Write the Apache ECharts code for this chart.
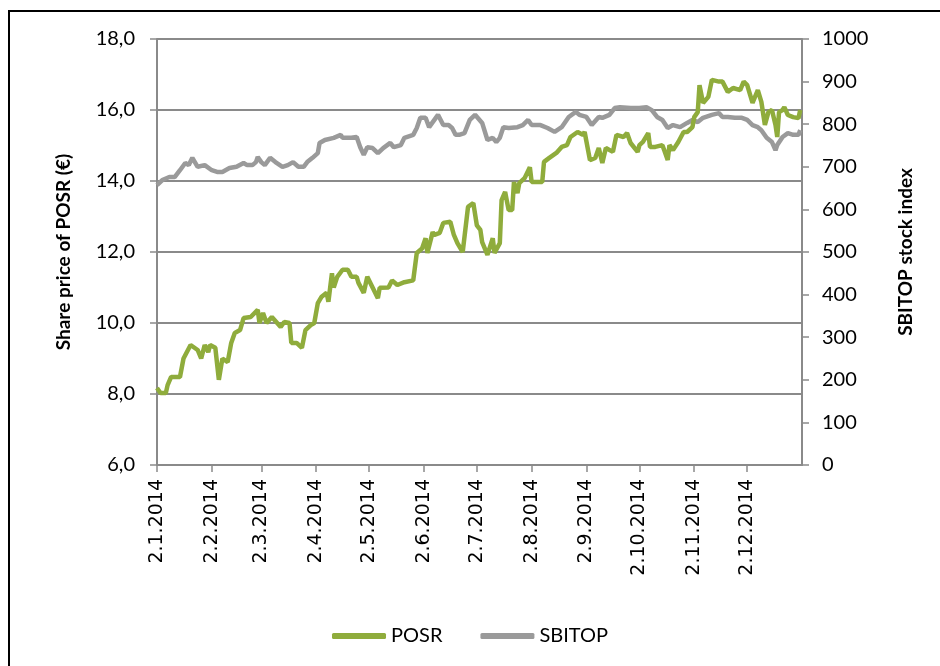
<!DOCTYPE html>
<html>
<head>
<meta charset="utf-8">
<script src="https://cdn.jsdelivr.net/npm/echarts@6/dist/echarts.min.js"></script>
<style>
  html, body { margin: 0; padding: 0; background: #fff; }
  #chart { width: 940px; height: 666px; }
</style>
</head>
<body>
<div id="chart"></div>
<script>
// x values are days counted from 2 January 2014
const monthDays = [0, 31, 59, 90, 120, 151, 181, 212, 243, 273, 304, 334];
const monthLabels = ['2.1.2014', '2.2.2014', '2.3.2014', '2.4.2014', '2.5.2014', '2.6.2014',
  '2.7.2014', '2.8.2014', '2.9.2014', '2.10.2014', '2.11.2014', '2.12.2014'];

const posrDays = [
  0, 2, 5, 6, 8, 13, 15, 19, 23, 25,
  27, 29, 30, 33, 35, 37, 40, 42, 44, 47,
  49, 53, 57, 58, 60, 62, 65, 70, 72, 75,
  76, 79, 82, 84, 87, 89, 91, 93, 96, 97,
  99, 100, 102, 105, 108, 110, 113, 114, 117, 119,
  122, 125, 126, 131, 133, 136, 140, 145, 147, 150,
  152, 153, 156, 157, 160, 162, 166, 168, 170, 173,
  176, 179, 181, 183, 184, 187, 190, 191, 194, 195,
  197, 199, 201, 202, 204, 205, 208, 211, 212, 215,
  218, 219, 222, 226, 229, 232, 234, 238, 241, 242,
  245, 248, 250, 252, 254, 258, 260, 264, 266, 268,
  272, 273, 275, 278, 279, 282, 286, 287, 289, 290,
  292, 295, 298, 300, 303, 304, 306, 307, 309, 312,
  314, 318, 320, 323, 326, 330, 332, 334, 337, 338,
  340, 342, 344, 346, 348, 350, 351, 352, 354, 355,
  357, 360, 363, 364
];
const posrValues = [
  8.17, 8.03, 8.03, 8.25, 8.48, 8.48, 9.0, 9.38, 9.24, 9.0,
  9.38, 9.18, 9.38, 9.3, 8.4, 9.0, 8.9, 9.44, 9.72, 9.8,
  10.14, 10.17, 10.37, 10.0, 10.28, 10.0, 10.17, 9.89, 10.03, 10.0,
  9.44, 9.44, 9.3, 9.8, 9.94, 10.0, 10.56, 10.73, 10.85, 10.6,
  11.4, 11.0, 11.3, 11.5, 11.5, 11.3, 11.3, 11.13, 10.85, 11.3,
  11.0, 10.7, 10.99, 11.0, 11.2, 11.07, 11.15, 11.2, 11.97, 12.1,
  12.39, 11.97, 12.56, 12.48, 12.54, 12.82, 12.85, 12.48, 12.25, 12.0,
  13.27, 13.38, 12.75, 12.62, 12.28, 11.92, 12.39, 11.97, 12.25, 13.46,
  13.69, 13.18, 13.18, 13.97, 13.66, 13.94, 14.08, 14.39, 13.97, 13.97,
  13.97, 14.54, 14.65, 14.79, 14.96, 15.01, 15.24, 15.38, 15.3, 15.38,
  14.59, 14.65, 14.93, 14.51, 14.93, 14.82, 15.3, 15.24, 15.35, 15.07,
  14.82, 15.01, 15.1, 15.35, 14.96, 14.96, 15.01, 14.87, 14.59, 15.01,
  14.87, 15.1, 15.38, 15.38, 15.52, 15.8, 15.94, 16.7, 16.2, 16.37,
  16.85, 16.8, 16.8, 16.51, 16.62, 16.56, 16.8, 16.7, 16.2, 16.2,
  16.56, 16.23, 15.58, 15.94, 16.0, 15.58, 15.24, 15.94, 16.0, 16.08,
  15.86, 15.8, 15.77, 16.0
];

const sbitopDays = [
  0, 3, 7, 10, 13, 16, 18, 20, 23, 24,
  27, 31, 34, 37, 38, 41, 45, 49, 51, 54,
  56, 57, 59, 61, 64, 67, 71, 74, 77, 80,
  83, 85, 88, 91, 92, 95, 100, 104, 105, 110,
  113, 115, 117, 119, 122, 125, 128, 132, 134, 138,
  140, 145, 147, 149, 152, 154, 159, 162, 165, 167,
  169, 171, 174, 177, 180, 184, 187, 190, 192, 194,
  196, 199, 204, 207, 210, 212, 217, 221, 222, 225,
  229, 233, 237, 239, 243, 246, 250, 252, 256, 259,
  262, 268, 273, 277, 280, 283, 286, 289, 292, 296,
  300, 303, 306, 309, 314, 318, 320, 323, 327, 331,
  334, 337, 340, 342, 345, 348, 350, 351, 354, 357,
  360, 363, 364
];
const sbitopValues = [
  657, 669, 676, 676, 692, 709, 704, 721, 700, 697,
  704, 692, 688, 688, 685, 697, 700, 709, 704, 704,
  711, 723, 711, 704, 721, 711, 700, 704, 711, 700,
  700, 711, 721, 732, 756, 763, 768, 775, 768, 768,
  770, 746, 728, 746, 744, 732, 744, 756, 746, 751,
  768, 775, 791, 815, 815, 793, 822, 798, 798, 791,
  775, 775, 779, 810, 822, 803, 763, 768, 758, 768,
  793, 791, 793, 798, 810, 798, 798, 791, 793, 782,
  793, 817, 829, 822, 817, 798, 817, 815, 822, 838,
  840, 838, 838, 840, 833, 817, 810, 791, 798, 793,
  803, 810, 805, 815, 822, 826, 817, 817, 815, 815,
  810, 798, 793, 786, 768, 758, 739, 751, 770, 779,
  775, 775, 786
];

const green = '#8fac3c';
const grey = '#9a9a9a';
const axisGrey = '#8a8a8a';
const font = 'Lato, "Liberation Sans", sans-serif';

const chart = echarts.init(document.getElementById('chart'), null, { renderer: 'canvas' });

chart.setOption({
  animation: false,
  backgroundColor: '#fff',
  graphic: [{
    type: 'rect',
    shape: { x: 9, y: 11, width: 1000, height: 1000 },
    style: { fill: 'none', stroke: '#000', lineWidth: 2 },
    silent: true
  }],
  grid: { left: 157, right: 138, top: 39, bottom: 201 },
  legend: {
    top: 621,
    left: 'center',
    itemWidth: 54,
    itemHeight: 6,
    itemGap: 38,
    icon: 'roundRect',
    textStyle: { fontFamily: font, fontSize: 20, color: '#000' },
    data: ['POSR', 'SBITOP']
  },
  xAxis: {
    type: 'value',
    min: 0,
    max: 365,
    axisLine: { show: true, lineStyle: { color: axisGrey, width: 2 } },
    axisTick: { show: true, customValues: monthDays, length: 7, lineStyle: { color: axisGrey, width: 1.5 } },
    axisLabel: {
      customValues: monthDays,
      rotate: 90,
      margin: 14,
      fontFamily: '"DejaVu Sans", sans-serif',
      fontSize: 19,
      color: '#000',
      formatter: v => monthLabels[monthDays.indexOf(v)]
    },
    splitLine: { show: false }
  },
  yAxis: [{
    type: 'value',
    min: 6,
    max: 18,
    interval: 2,
    name: 'Share price of POSR (€)',
    nameLocation: 'middle',
    nameRotate: 90,
    nameGap: 84,
    nameTextStyle: { fontFamily: font, fontSize: 19, fontWeight: 'bold', color: '#000' },
    axisLine: { show: true, lineStyle: { color: axisGrey, width: 2 } },
    axisTick: { show: true, length: 7, lineStyle: { color: axisGrey, width: 1.5 } },
    axisLabel: {
      margin: 22,
      fontFamily: font,
      fontSize: 20,
      color: '#000',
      formatter: v => v.toFixed(1).replace('.', ',')
    },
    splitLine: { show: true, lineStyle: { color: axisGrey, width: 2 } }
  }, {
    type: 'value',
    min: 0,
    max: 1000,
    interval: 100,
    name: 'SBITOP stock index',
    nameLocation: 'middle',
    nameRotate: 90,
    nameGap: 94,
    nameTextStyle: { fontFamily: font, fontSize: 19, fontWeight: 'bold', color: '#000' },
    axisLine: { show: true, lineStyle: { color: axisGrey, width: 2 } },
    axisTick: { show: true, length: 7, lineStyle: { color: axisGrey, width: 1.5 } },
    axisLabel: { margin: 20, fontFamily: font, fontSize: 20, color: '#000', formatter: v => String(v) },
    splitLine: { show: false }
  }],
  series: [{
    name: 'POSR',
    type: 'line',
    yAxisIndex: 0,
    z: 3,
    showSymbol: false,
    color: green,
    lineStyle: { color: green, width: 4.5 },
    data: posrDays.map((d, i) => [d, posrValues[i]])
  }, {
    name: 'SBITOP',
    type: 'line',
    yAxisIndex: 1,
    z: 2,
    showSymbol: false,
    color: grey,
    lineStyle: { color: grey, width: 4.5 },
    data: sbitopDays.map((d, i) => [d, sbitopValues[i]])
  }]
});
</script>
</body>
</html>
